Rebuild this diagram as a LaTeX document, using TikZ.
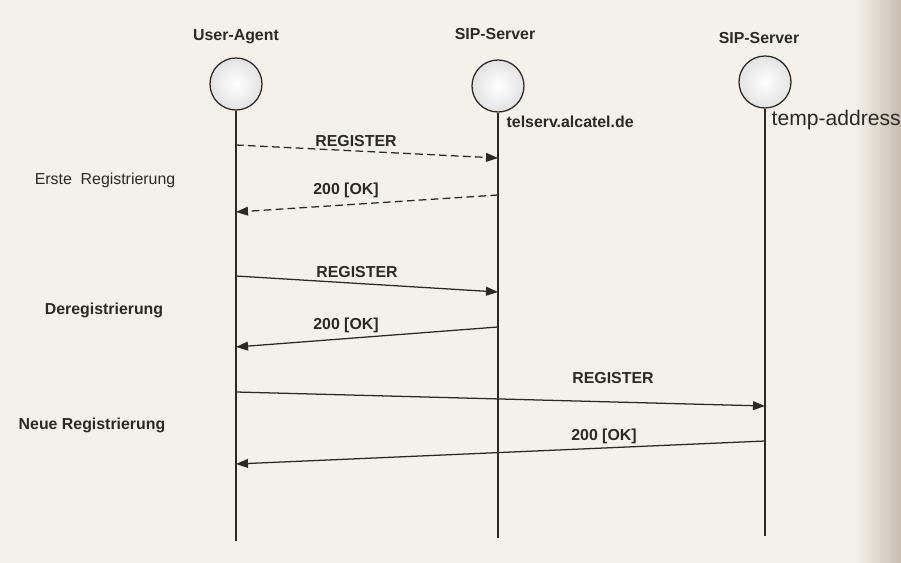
\documentclass[tikz,border=0pt]{standalone}
\usepackage{fontspec}
\setmainfont{Liberation Sans}
\usetikzlibrary{arrows.meta,positioning}
\definecolor{paper}{HTML}{F4F1EB}
\definecolor{edge}{HTML}{C9BEB2}
\definecolor{ink}{HTML}{2B2926}
\tikzset{
  lifeline/.style={line width=1.6pt, draw=ink},
  msg/.style={line width=0.9pt, draw=ink, -{Triangle[length=3mm,width=2.2mm]}},
  msgdash/.style={msg, dash pattern=on 5.5pt off 3pt},
  lab/.style={font=\fontsize{11.3}{13}\selectfont\bfseries, text=ink, inner sep=1pt},
  phase/.style={font=\fontsize{11.3}{13}\selectfont, text=ink, inner sep=1pt},
  station/.style={circle, draw=ink, line width=0.9pt, minimum size=1.3cm,
    inner sep=0pt, inner color=white, outer color=gray!22}
}
\begin{document}
\begin{tikzpicture}[x=0.025cm,y=-0.025cm]
\useasboundingbox (0,0) rectangle (901,563);
% paper
\fill[paper] (0,0) rectangle (901,563);
\shade[left color=paper, right color=edge] (855,0) rectangle (901,563);
% stations with lifelines
\def\xua{236} \def\xsa{498} \def\xsb{765}
\node[station] (ua) at (\xua,84) {};
\node[station] (sa) at (\xsa,86) {};
\node[station] (sb) at (\xsb,82) {};
\coordinate (uaend) at (\xua,541);
\coordinate (saend) at (\xsa,538);
\coordinate (sbend) at (\xsb,536);
\draw[lifeline] (ua.south) -- (uaend);
\draw[lifeline] (sa.south) -- (saend);
\draw[lifeline] (sb.south) -- (sbend);
% headers
\node[lab] (uahead) at (\xua,37) {User-Agent};
\node[lab] (sahead) at (495,34) {SIP-Server};
\node[lab] (sbhead) at (759,38) {SIP-Server};
\node[lab, anchor=west] (saaddr) at (505,122) {telserv.alcatel.de};
\node[text=ink, anchor=west, inner sep=1pt, font=\fontsize{15}{18}\selectfont]
  (sbaddr) at (770,120) {temp-address};
% message end points
\coordinate (m1a) at (\xua,145); \coordinate (m1b) at (\xsa,158);
\coordinate (m2a) at (\xsa,195); \coordinate (m2b) at (\xua,212);
\coordinate (m3a) at (\xua,276); \coordinate (m3b) at (\xsa,292);
\coordinate (m4a) at (\xsa,327); \coordinate (m4b) at (\xua,347);
\coordinate (m5a) at (\xua,392); \coordinate (m5b) at (\xsb,406);
\coordinate (m6a) at (\xsb,441); \coordinate (m6b) at (\xua,464);
% messages
\draw[msgdash] (m1a) -- (m1b);
\draw[msgdash] (m2a) -- (m2b);
\draw[msg] (m3a) -- (m3b);
\draw[msg] (m4a) -- (m4b);
\draw[msg] (m5a) -- (m5b);
\draw[msg] (m6a) -- (m6b);
% message labels
\node[lab] (l1) at (356,141) {REGISTER};
\node[lab] (l2) at (346,190) {200 [OK]};
\node[lab] (l3) at (357,272) {REGISTER};
\node[lab] (l4) at (346,325) {200 [OK]};
\node[lab] (l5) at (613,378) {REGISTER};
\node[lab] (l6) at (604,436) {200 [OK]};
% phases
\node[phase] (p1) at (105,180) {Erste\ \ Registrierung};
\node[lab] (p2) at (104,310) {Deregistrierung};
\node[lab] (p3) at (92,425) {Neue Registrierung};
\end{tikzpicture}
\end{document}
